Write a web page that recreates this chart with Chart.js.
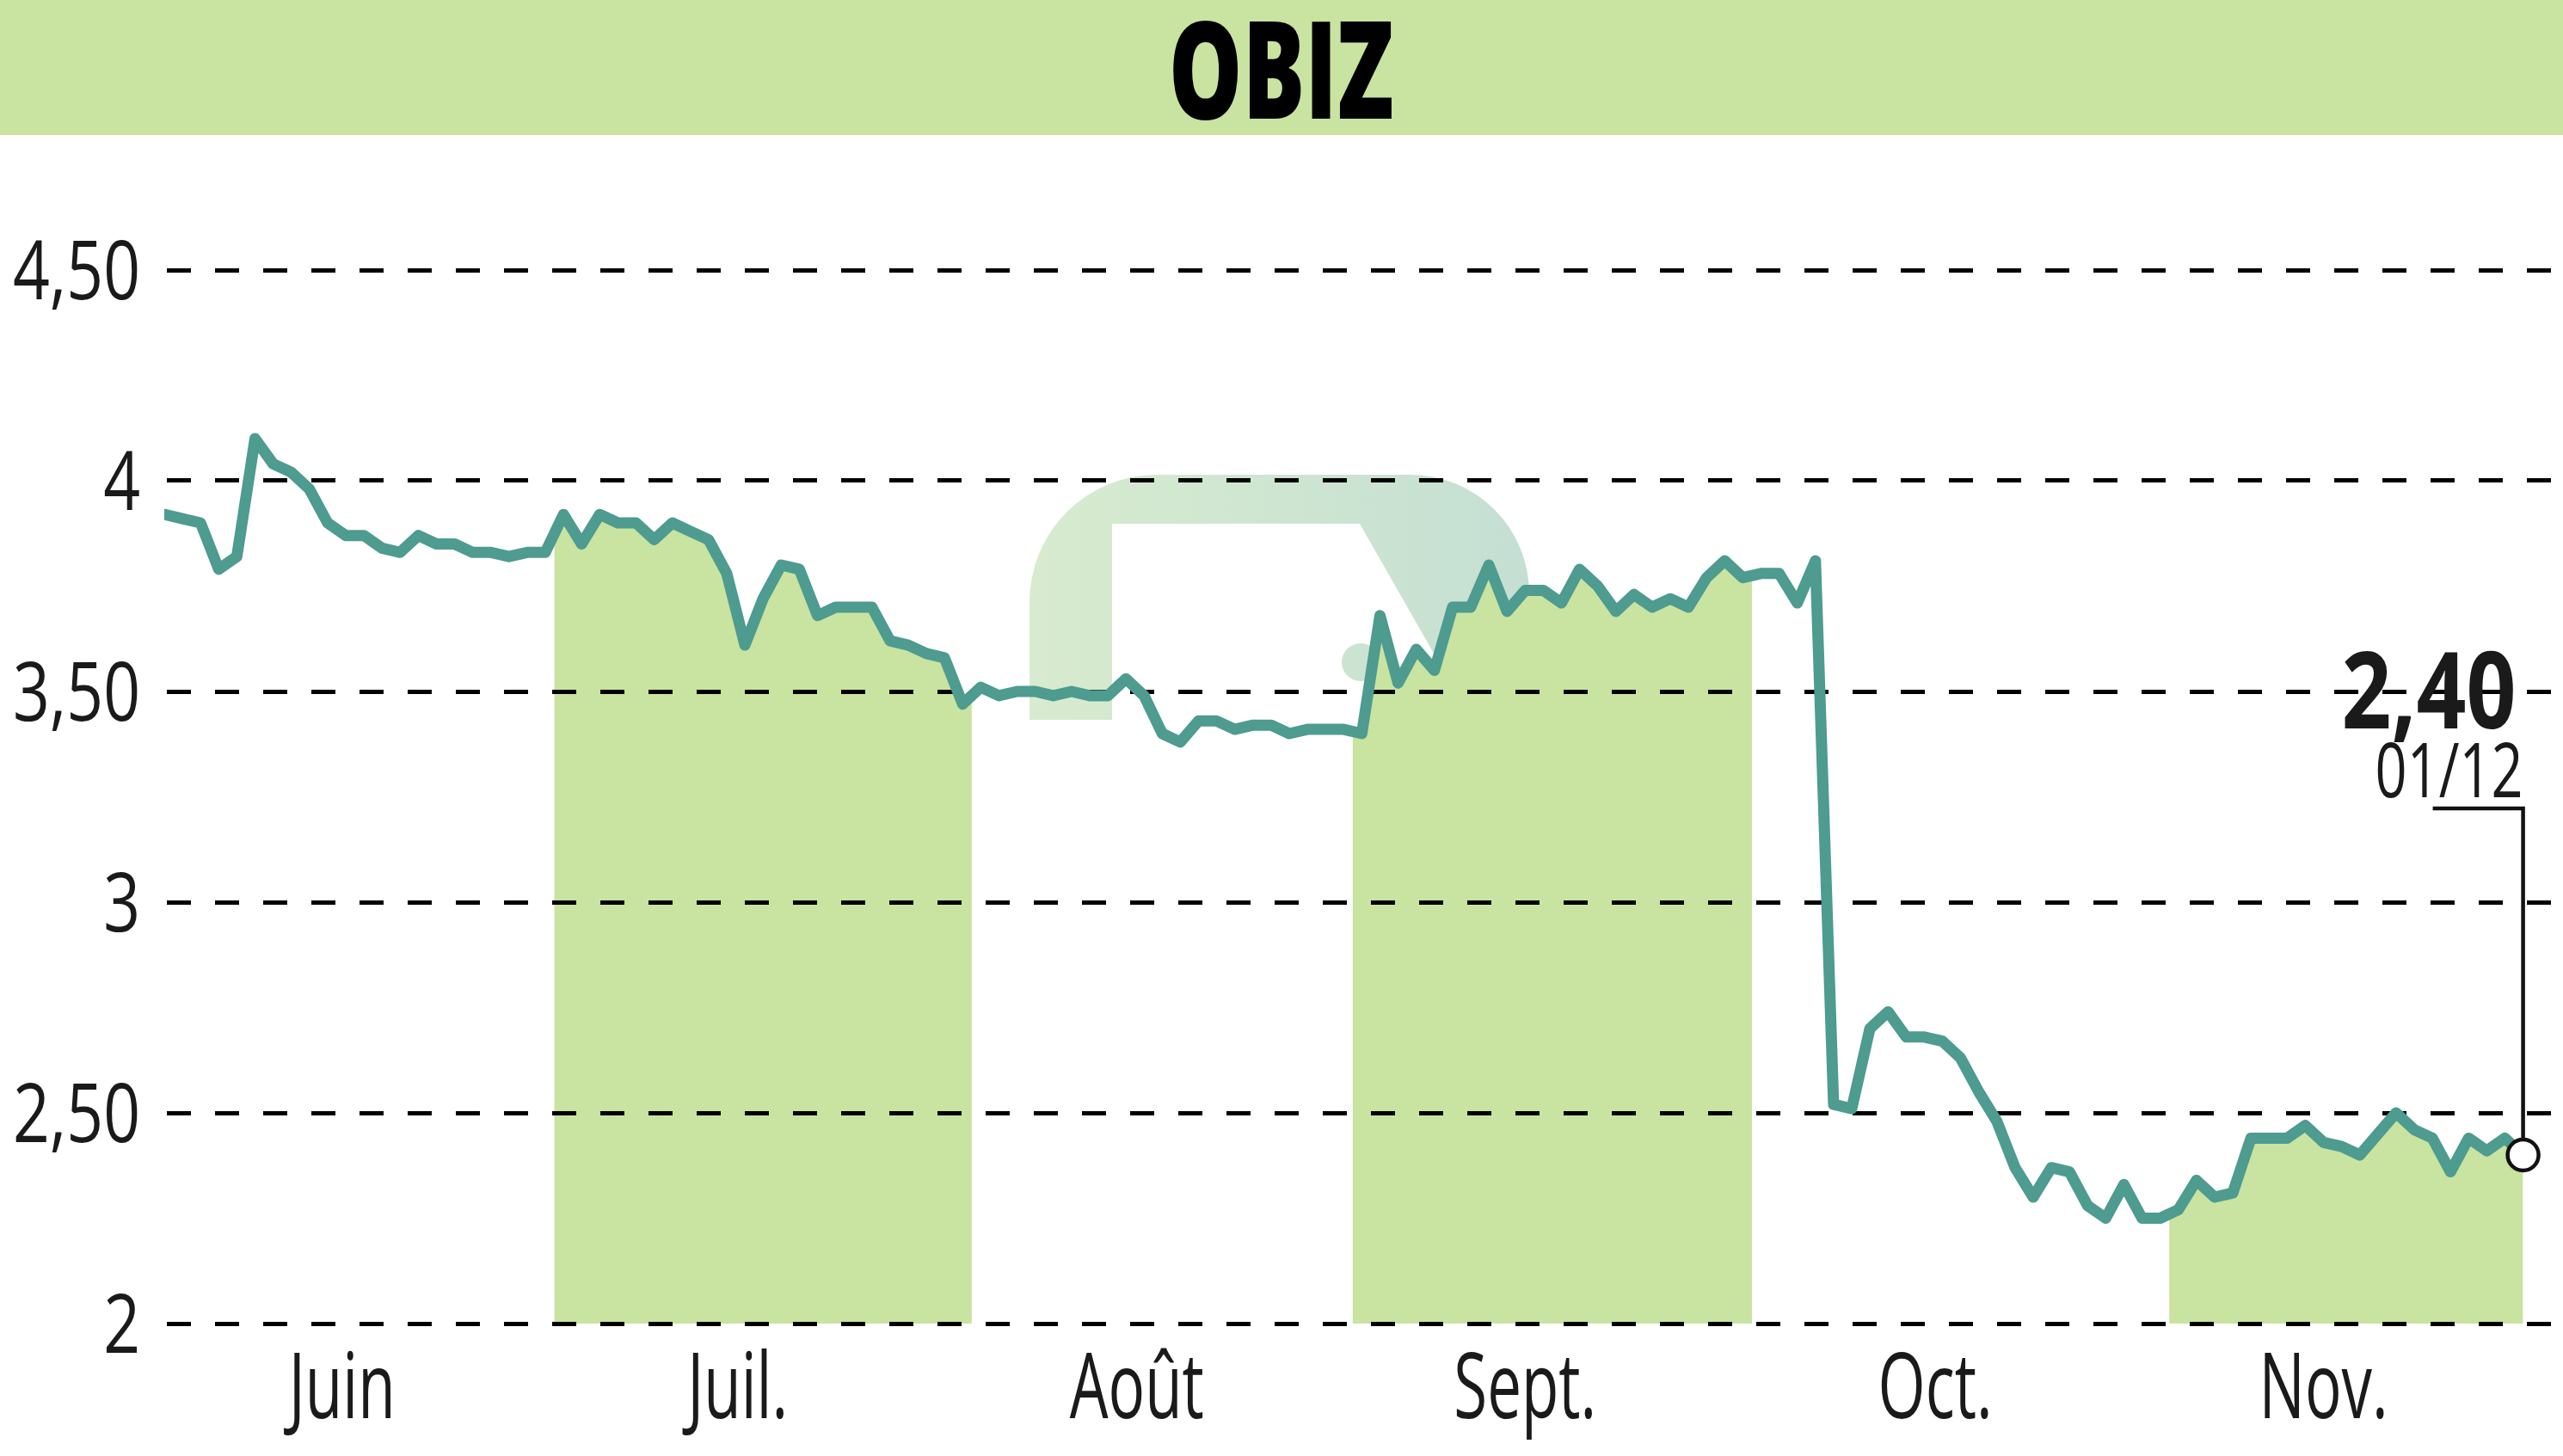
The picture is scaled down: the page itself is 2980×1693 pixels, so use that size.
<!DOCTYPE html>
<html>
<head>
<meta charset="utf-8">
<title>OBIZ</title>
<script src="https://cdn.jsdelivr.net/npm/chart.js@4/dist/chart.umd.min.js"></script>
<style>
  html, body { margin: 0; padding: 0; background: #fff; }
  body { width: 2980px; height: 1693px; position: relative; overflow: hidden; }
  #header { position: absolute; left: 0; top: 0; width: 2980px; height: 157px; background: #c9e3a0; }
  #title {
    position: absolute; left: 0; top: -1px; width: 100%; text-align: center;
    font-family: 'Open Sans', 'DejaVu Sans Condensed', sans-serif;
    font-weight: 800; font-size: 157px;
    line-height: 157px; color: #000;
  }
  #titleText { display: inline-block; transform-origin: 50% 50%; }
  #chartBox { position: absolute; left: 0; top: 157px; width: 2980px; height: 1536px; }
</style>
</head>
<body>
<div id="header"><div id="title"><span id="titleText">OBIZ</span></div></div>
<div id="chartBox"><canvas id="priceChart" width="2980" height="1536"></canvas></div>
<script>
// daily closes, one per trading day (june -> 1 dec)
const prices = [
  3.92, 3.91, 3.90, 3.79, 3.82, 4.10, 4.04, 4.02, 3.98, 3.90,
  3.87, 3.87, 3.84, 3.83, 3.87, 3.85, 3.85, 3.83, 3.83, 3.82,
  3.83, 3.83, 3.92, 3.85, 3.92, 3.90, 3.90, 3.86, 3.90, 3.88,
  3.86, 3.78, 3.61, 3.72, 3.80, 3.79, 3.68, 3.70, 3.70, 3.70,
  3.62, 3.61, 3.59, 3.58, 3.47, 3.51, 3.49, 3.50, 3.50, 3.49,
  3.50, 3.49, 3.49, 3.53, 3.49, 3.40, 3.38, 3.43, 3.43, 3.41,
  3.42, 3.42, 3.40, 3.41, 3.41, 3.41, 3.40, 3.68, 3.52, 3.60,
  3.55, 3.70, 3.70, 3.80, 3.69, 3.74, 3.74, 3.71, 3.79, 3.75,
  3.69, 3.73, 3.70, 3.72, 3.70, 3.77, 3.81, 3.77, 3.78, 3.78,
  3.71, 3.81, 2.52, 2.51, 2.70, 2.74, 2.68, 2.68, 2.67, 2.63,
  2.55, 2.48, 2.37, 2.30, 2.37, 2.36, 2.28, 2.25, 2.33, 2.25,
  2.25, 2.27, 2.34, 2.30, 2.31, 2.44, 2.44, 2.44, 2.47, 2.43,
  2.42, 2.40, 2.45, 2.50, 2.46, 2.44, 2.36, 2.44, 2.41, 2.44,
  2.40
];
const monthLabels = ['Juin', 'Juil.', 'Août', 'Sept.', 'Oct.', 'Nov.'];
const monthTickPos = [9.8, 31.6, 53.6, 75.0, 97.6, 119.0];
// shaded months (trading-day index ranges): juillet, septembre, novembre
const shadedMonths = [[21.5, 44.5], [65.5, 87.5], [110.5, 130]];
const yTicks = [2, 2.5, 3, 3.5, 4, 4.5];
const lastDate = '01/12';

const FONT = "'Open Sans', 'DejaVu Sans Condensed', sans-serif";
const LINE = '#4e9b8f';
const BAND = '#c9e3a0';
const INK = '#1a1a1a';

function fmtPrice(v) {
  return Number.isInteger(v) ? String(v) : v.toFixed(2).replace('.', ',');
}

// the source uses a condensed face; squeeze text horizontally to a target width
function squeeze(ctx, font, sample, targetWidth) {
  ctx.font = font;
  return targetWidth / ctx.measureText(sample).width;
}
function drawSqueezed(ctx, text, x, y, sx) {
  ctx.save();
  ctx.translate(x, y);
  ctx.scale(sx, 1);
  ctx.fillText(text, 0, 0);
  ctx.restore();
}

// watermark + month bands under the line
const backdrop = {
  id: 'backdrop',
  beforeDraw(chart) {
    const ctx = chart.ctx;
    // faint logo
    ctx.save();
    const g = ctx.createLinearGradient(1197, 0, 1778, 0);
    g.addColorStop(0, 'rgb(216,235,207)');
    g.addColorStop(1, 'rgb(196,223,211)');
    ctx.fillStyle = g;
    ctx.beginPath();
    ctx.moveTo(1197, 680);
    ctx.lineTo(1197, 543);
    ctx.arcTo(1197, 395, 1345, 395, 148);
    ctx.lineTo(1640, 395);
    ctx.arcTo(1778, 395, 1778, 533, 138);
    ctx.lineTo(1745, 650);
    ctx.lineTo(1694, 650);
    ctx.lineTo(1581, 452);
    ctx.lineTo(1293, 452);
    ctx.lineTo(1293, 680);
    ctx.closePath();
    ctx.fill();
    ctx.beginPath();
    ctx.arc(1582, 613, 22, 0, Math.PI * 2);
    ctx.fill();
    ctx.restore();

    // area under the line, only inside the shaded months
    const pts = chart.getDatasetMeta(0).data;
    const xs = chart.scales.x, ys = chart.scales.y;
    const bottom = ys.getPixelForValue(ys.min);
    const top = chart.chartArea.top;
    ctx.save();
    ctx.beginPath();
    shadedMonths.forEach(([a, b]) => {
      const x1 = xs.getPixelForValue(a), x2 = xs.getPixelForValue(b);
      ctx.rect(x1, top, x2 - x1, bottom - top);
    });
    ctx.clip();
    ctx.beginPath();
    ctx.moveTo(pts[0].x, bottom);
    pts.forEach(p => ctx.lineTo(p.x, p.y));
    ctx.lineTo(pts[pts.length - 1].x, bottom);
    ctx.closePath();
    ctx.fillStyle = BAND;
    ctx.fill();
    ctx.restore();
  }
};

// axis labels, drawn at the scales' own tick positions
const axisLabels = {
  id: 'axisLabels',
  afterDraw(chart) {
    const ctx = chart.ctx;
    const xs = chart.scales.x, ys = chart.scales.y;
    ctx.save();
    ctx.fillStyle = INK;
    ctx.textBaseline = 'alphabetic';

    const yFont = '95px ' + FONT;
    const sy = squeeze(ctx, yFont, '4,50', 148);
    ctx.textAlign = 'right';
    ys.ticks.forEach(t => {
      drawSqueezed(ctx, t.label, 163, ys.getPixelForValue(t.value) + 34, sy);
    });

    const xFont = '106px ' + FONT;
    const sx = squeeze(ctx, xFont, 'Nov.', 150);
    ctx.textAlign = 'center';
    xs.ticks.forEach(t => {
      drawSqueezed(ctx, t.label, xs.getPixelForValue(t.value), 1492, sx);
    });
    ctx.restore();
  }
};

// last price label with its leader line
const lastLabel = {
  id: 'lastLabel',
  beforeDatasetsDraw(chart) {
    const ctx = chart.ctx;
    const pts = chart.getDatasetMeta(0).data;
    const p = pts[pts.length - 1];
    const yLead = 783;
    ctx.save();
    ctx.strokeStyle = '#111';
    ctx.lineWidth = 4.5;
    ctx.beginPath();
    ctx.moveTo(p.x - 105, yLead);
    ctx.lineTo(p.x, yLead);
    ctx.lineTo(p.x, p.y - 18);
    ctx.stroke();
    ctx.fillStyle = INK;
    ctx.textAlign = 'right';
    ctx.textBaseline = 'alphabetic';
    const priceText = fmtPrice(prices[prices.length - 1]);
    const bigFont = 'bold 124px ' + FONT;
    drawSqueezed(ctx, priceText, p.x - 8, 690, squeeze(ctx, bigFont, priceText, 203));
    const dateFont = '87px ' + FONT;
    drawSqueezed(ctx, lastDate, p.x, 770, squeeze(ctx, dateFont, lastDate, 172));
    ctx.restore();
  }
};

const ctx = document.getElementById('priceChart').getContext('2d');
const priceChart = new Chart(ctx, {
  type: 'line',
  data: {
    datasets: [{
      label: 'OBIZ',
      data: prices.map((v, i) => ({ x: i, y: v })),
      borderColor: LINE,
      borderWidth: 13,
      borderJoinStyle: 'round',
      borderCapStyle: 'round',
      tension: 0,
      fill: false,
      pointRadius: c => (c.dataIndex === prices.length - 1 ? 18 : 0),
      pointHoverRadius: c => (c.dataIndex === prices.length - 1 ? 18 : 0),
      pointBackgroundColor: '#fff',
      pointBorderColor: '#111',
      pointBorderWidth: 4.5
    }]
  },
  options: {
    responsive: false,
    animation: false,
    devicePixelRatio: 1,
    layout: { autoPadding: false, padding: { top: 157, left: 0, right: 0, bottom: 0 } },
    plugins: {
      legend: { display: false },
      tooltip: { enabled: false },
      title: { display: false }
    },
    scales: {
      x: {
        type: 'linear',
        bounds: 'data',
        min: 0,
        max: 132.2,
        grid: { display: false, drawTicks: false },
        border: { display: false },
        afterBuildTicks: s => { s.ticks = monthTickPos.map(v => ({ value: v })); },
        afterFit: s => { s.height = 154; },
        ticks: {
          display: false,
          autoSkip: false,
          maxRotation: 0,
          callback: (v, i) => monthLabels[i]
        }
      },
      y: {
        min: 2,
        max: 4.5,
        afterBuildTicks: s => { s.ticks = yTicks.map(v => ({ value: v })); },
        afterFit: s => { s.width = 191; },
        grid: { color: '#000', lineWidth: 5, drawTicks: false },
        border: { display: false, dash: [28, 28], dashOffset: -3 },
        ticks: {
          display: false,
          callback: v => fmtPrice(v)
        }
      }
    }
  },
  plugins: [backdrop, axisLabels, lastLabel]
});

// squeeze the title to the width it has in the source
const titleText = document.getElementById('titleText');
titleText.style.transform = 'scaleX(' + (262 / titleText.getBoundingClientRect().width) + ')';
</script>
</body>
</html>
